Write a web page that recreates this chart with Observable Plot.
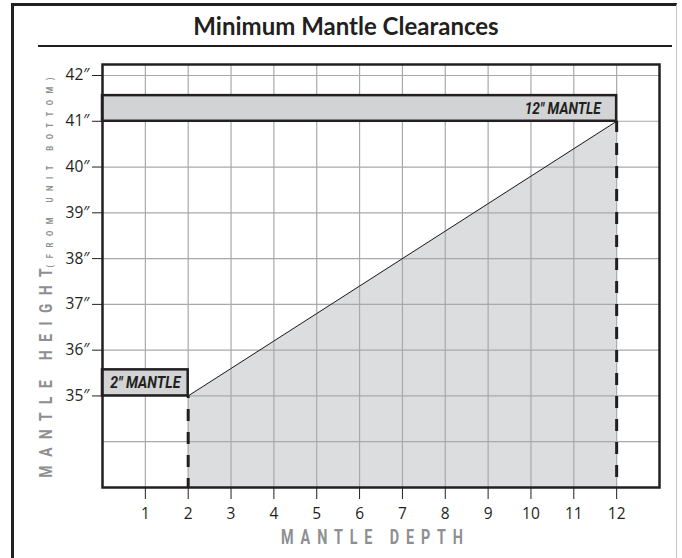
<!DOCTYPE html>
<html><head><meta charset="utf-8">
<script src="https://cdn.jsdelivr.net/npm/d3@7"></script>
<script src="https://cdn.jsdelivr.net/npm/@observablehq/plot@0.6"></script>
<style>
html,body{margin:0;padding:0;background:#fff;}
#page{position:relative;width:682px;height:558px;overflow:hidden;background:#fff;}
#border{position:absolute;left:11px;top:3px;width:666px;height:600px;border-left:3px solid #231f20;border-top:3px solid #231f20;border-right:1px solid #c7c8ca;box-sizing:border-box;}
#title{position:absolute;left:12px;width:668px;top:11px;text-align:center;font-family:Lato,sans-serif;font-weight:bold;font-size:24px;line-height:30px;color:#231f20;}
#rule{position:absolute;left:38px;top:45px;width:634px;height:1.5px;background:#231f20;}
#chart{position:absolute;left:0;top:50px;}
</style></head>
<body><div id="page"><div id="border"></div><div id="title">Minimum Mantle Clearances</div><div id="rule"></div><div id="chart"></div></div>
<script>
// data
const depthTicks = [1,2,3,4,5,6,7,8,9,10,11,12];
const heightTicks = [35,36,37,38,39,40,41,42];
const gridHeights = [33,34,35,36,37,38,39,40,41,42];
const mantleDepths = [2, 12];
const mantleHeights = [35, 41];
const mantleLabels = ["2″ MANTLE", "12″ MANTLE"];
const labelBandTop = [35.57, 41.56];
const xLabel = "MANTLE DEPTH";
const yLabel = "MANTLE HEIGHT";
const ySubLabel = "(FROM UNIT BOTTOM)";

const shade = mantleDepths.map((d, i) => ({depth: d, height: mantleHeights[i], top: labelBandTop[i], label: mantleLabels[i]}));
const ink = "#231f20";
const gridColor = "#a7a9ac";
const labelGray = "#8e8f91";
const cond = "Roboto, 'Liberation Sans', sans-serif";

const chart = Plot.plot({
  width: 682, height: 508,
  marginLeft: 102, marginRight: 23, marginTop: 14, marginBottom: 71,
  x: {domain: [0, 13]},
  y: {domain: [33, 42.24]},
  style: {fontFamily: "'Open Sans', sans-serif", color: ink, background: "transparent", overflow: "visible"},
  marks: [
    Plot.areaY(shade, {x: "depth", y1: 33, y2: "height", fill: "#dcdddf"}),
    Plot.gridX(depthTicks, {stroke: gridColor, strokeOpacity: 1, strokeWidth: 1.2}),
    Plot.gridY(gridHeights, {stroke: gridColor, strokeOpacity: 1, strokeWidth: 1.2}),
    Plot.rect(shade, {x1: 0, x2: "depth", y1: "height", y2: "top", fill: "#d1d3d4", stroke: ink, strokeWidth: 2.5}),
    Plot.line(shade, {x: "depth", y: "height", stroke: ink, strokeWidth: 1}),
    Plot.ruleX(shade.filter(d => d.depth === 2), {x: "depth", y1: 33, y2: "height", stroke: ink, strokeWidth: 3, strokeDasharray: "12,11", strokeDashoffset: 3}),
    Plot.ruleX(shade.filter(d => d.depth === 12), {x: "depth", y1: 33, y2: "height", stroke: ink, strokeWidth: 3, strokeDasharray: "12,11", strokeDashoffset: 13}),
    Plot.text(shade.filter(d => d.depth === 2), {x: d => d.depth / 2, y: d => (d.height + d.top) / 2, text: "label", textAnchor: "middle", lineAnchor: "middle", fontFamily: cond, fontWeight: "bold", fontStyle: "italic", fontSize: 16, fill: ink}),
    Plot.text(shade.filter(d => d.depth === 12), {x: "depth", y: d => (d.height + d.top) / 2, text: "label", textAnchor: "end", lineAnchor: "middle", dx: -16, fontFamily: cond, fontWeight: "bold", fontStyle: "italic", fontSize: 16, fill: ink}),
    Plot.frame({stroke: ink, strokeWidth: 2.5}),
    Plot.axisX(depthTicks, {tickSize: 12, tickPadding: 8, fontSize: 15.5, label: null, stroke: ink, fill: ink}),
    Plot.axisY(heightTicks, {tickSize: 10, tickPadding: 3, fontSize: 15.5, label: null, tickFormat: d => d + "″", stroke: ink, fill: ink}),
    Plot.text([xLabel], {text: d => d, frameAnchor: "bottom", textAnchor: "middle", lineAnchor: "middle", dx: -9, dy: 50, fontFamily: cond, fontWeight: "bold", fontSize: 20, fill: labelGray}),
    Plot.text([yLabel], {text: d => d, frameAnchor: "left", textAnchor: "middle", lineAnchor: "middle", rotate: -90, dx: -57, dy: 97, fontFamily: cond, fontWeight: "bold", fontSize: 19, fill: labelGray}),
    Plot.text([ySubLabel], {text: d => d, frameAnchor: "left", textAnchor: "middle", lineAnchor: "middle", rotate: -90, dx: -52, dy: -103.5, fontFamily: cond, fontWeight: "bold", fontSize: 9, fill: labelGray})
  ]
});

// condensed look: squeeze glyphs horizontally and spread them to the reference span
function condense(el, s, target, adjust) {
  const tr = el.getAttribute("transform") || "";
  el.setAttribute("transform", `${tr} scale(${s},1)`);
  el.setAttribute("textLength", target / s);
  el.setAttribute("lengthAdjust", adjust);
}
d3.select(chart).selectAll("text").each(function() {
  const t = this.textContent;
  if (t === xLabel) condense(this, 0.72, 182, "spacing");
  else if (t === yLabel) condense(this, 0.72, 209, "spacing");
  else if (t === ySubLabel) condense(this, 0.85, 190, "spacing");
  else if (t === mantleLabels[0]) condense(this, 1, 70, "spacingAndGlyphs");
  else if (t === mantleLabels[1]) condense(this, 1, 76, "spacingAndGlyphs");
});

document.getElementById("chart").appendChild(chart);
</script>
</body></html>
